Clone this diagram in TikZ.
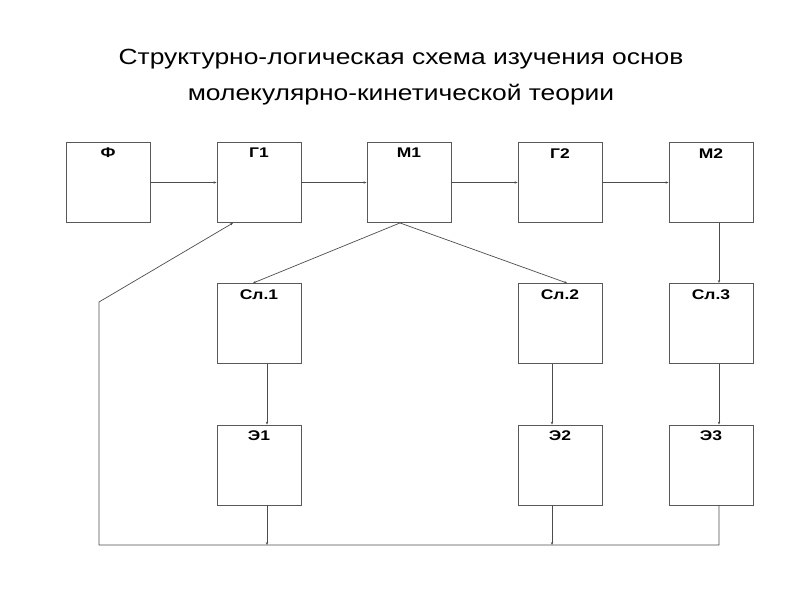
\documentclass[tikz,border=0pt]{standalone}
\usepackage{fontspec}
\setmainfont{Liberation Sans}
\newfontfamily\titlefont[FakeStretch=1.2]{Liberation Sans}
\newfontfamily\lblfont[FakeStretch=1.25]{Liberation Sans}
\usetikzlibrary{arrows.meta}
\begin{document}
\begin{tikzpicture}[x=1pt,y=-1pt,
  box/.style={draw=black!65,line width=0.9pt,minimum width=84pt,minimum height=80pt,inner sep=0pt},
  lbl/.style={font=\lblfont\fontsize{14}{16}\selectfont\bfseries,anchor=north,inner sep=0pt,yshift=-6pt},
  ttl/.style={font=\titlefont\fontsize{22}{26}\selectfont,anchor=base,inner sep=0pt},
  conn/.style={draw=black!70,line width=0.7pt},
  arr/.style={conn,-{Stealth[length=3pt,width=2.4pt]}}]
\useasboundingbox (0,0) rectangle (800,600);
\node[ttl] (title1) at (401,64) {Структурно-логическая схема изучения основ};
\node[ttl] (title2) at (401,100) {молекулярно-кинетической теории};
\node[box,label={[lbl]north:Ф}] (F) at (108,182.5) {};
\node[box,label={[lbl]north:Г1}] (G1) at (259,182.5) {};
\node[box,label={[lbl]north:М1}] (M1) at (409,182.5) {};
\node[box,label={[lbl]north:Г2}] (G2) at (560,182.5) {};
\node[box,label={[lbl]north:М2}] (M2) at (711,182.5) {};
\node[box,label={[lbl]north:Сл.1}] (S1) at (259,323.5) {};
\node[box,label={[lbl]north:Сл.2}] (S2) at (560,323.5) {};
\node[box,label={[lbl]north:Сл.3}] (S3) at (711,323.5) {};
\node[box,label={[lbl]north:Э1}] (E1) at (259,465) {};
\node[box,label={[lbl]north:Э2}] (E2) at (560,465) {};
\node[box,label={[lbl]north:Э3}] (E3) at (711,465) {};
\coordinate (b1) at (267,545);
\coordinate (b2) at (552,545);
\coordinate (b3) at (719,545);
\coordinate (bl) at (99,545);
\coordinate (cl) at (99,302);
\draw[arr] (F.east) -- (G1.west);
\draw[arr] (G1.east) -- (M1.west);
\draw[arr] (M1.east) -- (G2.west);
\draw[arr] (G2.east) -- (M2.west);
\draw[arr] ([xshift=-9pt]M1.south) -- ([xshift=-6pt]S1.north);
\draw[arr] ([xshift=-9pt]M1.south) -- ([xshift=7pt]S2.north);
\draw[arr] ([xshift=8pt]M2.south) -- ([xshift=8pt]S3.north);
\draw[arr] ([xshift=8pt]S1.south) -- ([xshift=8pt]E1.north);
\draw[arr] ([xshift=-8pt]S2.south) -- ([xshift=-8pt]E2.north);
\draw[arr] ([xshift=8pt]S3.south) -- ([xshift=8pt]E3.north);
\draw[arr] ([xshift=8pt]E1.south) -- (b1);
\draw[arr] ([xshift=-8pt]E2.south) -- (b2);
\draw[arr] ([xshift=8pt]E3.south) -- (b3) -- (bl) -- (cl) -- ([xshift=-26pt]G1.south);
\end{tikzpicture}
\end{document}
